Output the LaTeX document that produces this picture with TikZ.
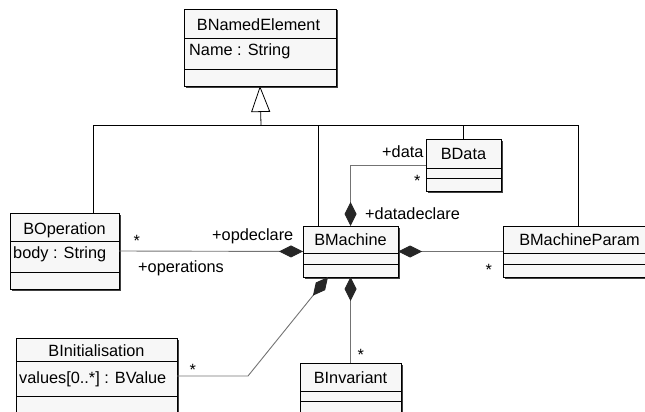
\documentclass[tikz,border=0pt]{standalone}
\usepackage{fontspec}
\setmainfont{Liberation Sans}
\usetikzlibrary{arrows.meta}
\begin{document}
\begin{tikzpicture}[x=1pt,y=-1pt,
  txt/.style={font=\fontsize{16.3}{19}\selectfont, inner sep=0pt},
  classbox/.style={draw=black, line width=0.9pt, fill=black!3, anchor=north west, inner sep=0pt, outer sep=0pt},
  divider/.style={draw=black, line width=0.9pt},
  gen/.style={draw=black, line width=0.8pt},
  assoc/.style={draw=black!55, line width=0.9pt},
  comp/.style={assoc, {Diamond[length=24pt,width=12pt,fill=black!85,color=black!85]}-},
  lbl/.style={txt, anchor=base west},
  ttl/.style={txt, anchor=base}
]
\useasboundingbox (0,0) rectangle (645,412);
\clip (0,0) rectangle (645,412);

% class boxes: \umlbox{name}{x1}{y1}{x2}{y2}{div1}{div2}
\newcommand{\umlbox}[7]{%
  \fill[black!75] (#2+1.5,#3+1.5) rectangle (#4+1.5,#5+1.5);
  \node[classbox, minimum width=#4-#2, minimum height=#5-#3] (#1) at (#2,#3) {};
  \draw[divider] (#2,#6) -- (#4,#6);
  \draw[divider] (#2,#7) -- (#4,#7);
}

\umlbox{bne}{184}{9}{336}{86}{38}{69}
\umlbox{bop}{10}{213}{119}{289}{241}{272}
\umlbox{bm}{303}{226}{398}{277}{253}{264}
\umlbox{bd}{426}{139}{501}{191}{168}{178}
\umlbox{bmp}{503}{226}{656}{277}{253}{264}
\umlbox{bi}{16}{338}{177}{440}{361}{396}
\umlbox{binv}{300}{363}{401}{440}{391}{401}

% titles and attributes
\node[ttl] (bne-t) at (258.5,31) {BNamedElement};
\node[lbl] (bne-a) at (189,56) {Name : String};
\node[ttl] (bop-t) at (64.5,234) {BOperation};
\node[lbl] (bop-a) at (13,258) {body : String};
\node[ttl] (bm-t) at (350.5,245.5) {BMachine};
\node[ttl] (bd-t) at (463.5,159.5) {BData};
\node[ttl] (bmp-t) at (579.5,245.5) {BMachineParam};
\node[ttl] (bi-t) at (96.5,356) {BInitialisation};
\node[lbl] (bi-a) at (19,383) {values[0..*] : BValue};
\node[ttl] (binv-t) at (350.5,383) {BInvariant};

% generalization
\coordinate (gj) at (261,125);
\draw[gen, -{Triangle[open, length=26pt, width=19pt, fill=white]}] (gj) -- (bne.south);
\draw[gen] ([xshift=83pt]bop.north west) |- (gj);
\draw[gen] ([xshift=15pt]bm.north west) |- (gj);
\draw[gen] (bd.north) |- (gj);
\draw[gen] ([xshift=75pt]bmp.north west) |- (gj);

% compositions
\draw[comp] (bm.west) -- (bop.east);
\draw[comp] (bm.east) -- (bmp.west);
\draw[comp] (bm.north) |- (bd.west);
\draw[comp] (bm.south) -- (binv.north);
\coordinate (bibend) at (248,376);
\draw[comp] ([xshift=25pt]bm.south west) -- (bibend) -- ([yshift=-38pt]bi.north east);

% association labels
\node[lbl] (l-opd) at (212,240) {+opdeclare};
\node[lbl] (l-ops) at (138,272) {+operations};
\node[lbl] (l-s1) at (133.5,246) {*};
\node[lbl] (l-data) at (382,157) {+data};
\node[lbl] (l-s2) at (414,186) {*};
\node[lbl] (l-dd) at (365,219) {+datadeclare};
\node[lbl] (l-s3) at (485.5,275) {*};
\node[lbl] (l-s4) at (189.5,375) {*};
\node[lbl] (l-s5) at (357.5,360) {*};
\end{tikzpicture}
\end{document}
